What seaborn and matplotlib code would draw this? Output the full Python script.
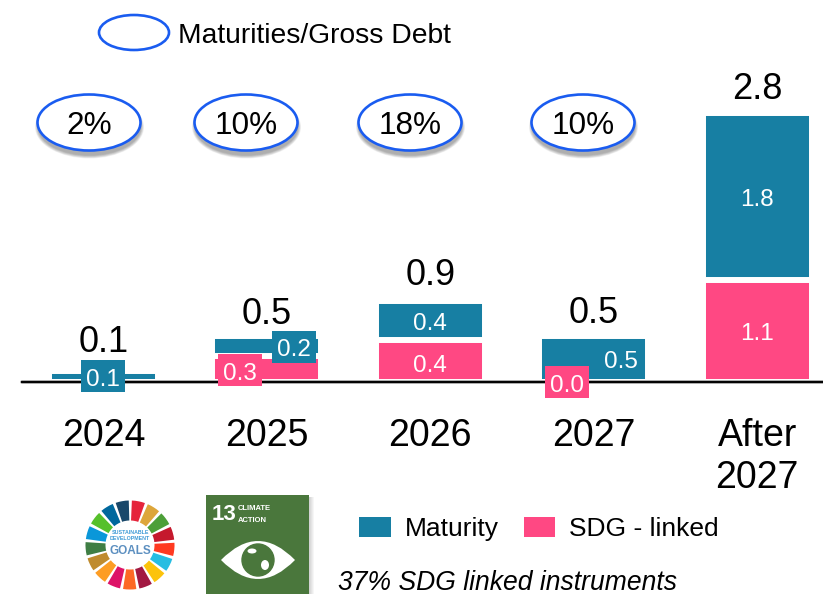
import matplotlib
matplotlib.use("Agg")
import matplotlib.pyplot as plt
import seaborn as sns
import pandas as pd
import numpy as np
from matplotlib.patches import Ellipse, Patch, Rectangle, Wedge, Circle, PathPatch
from matplotlib.path import Path
from matplotlib.transforms import IdentityTransform

# ---------- data ----------
periods = ["2024", "2025", "2026", "2027", "After\n2027"]
sdg_linked = [0.0, 0.28, 0.45, 0.0, 1.1]
maturity = [0.12, 0.22, 0.42, 0.5, 1.8]
total_labels = ["0.1", "0.5", "0.9", "0.5", "2.8"]
maturity_labels = ["0.1", "0.2", "0.4", "0.5", "1.8"]
sdg_labels = [None, "0.3", "0.4", "0.0", "1.1"]
ratio_labels = ["2%", "10%", "18%", "10%"]

TEAL = "#177FA3"
PINK = "#FF4883"
BLUE = "#1A5CF0"
W, H = 823, 594

sns.set_theme(style="white")
plt.rcParams["font.family"] = ["Liberation Sans", "DejaVu Sans"]

fig = plt.figure(figsize=(W / 100, H / 100), dpi=100, facecolor="white")

# overlay in pixel coordinates for annotations and logos
ov = fig.add_axes([0, 0, 1, 1], zorder=0)
ov.set_xlim(0, W)
ov.set_ylim(H, 0)
ov.axis("off")

# main chart axes
base_px = 382
ax = fig.add_axes([22 / W, (H - base_px) / H, (W - 22) / W, base_px / H], zorder=1)
ax.patch.set_alpha(0)

df = pd.DataFrame({"period": periods, "sdg": sdg_linked, "maturity": maturity})
df["stack"] = df["sdg"] + df["maturity"]

sns.barplot(data=df, x="period", y="stack", color=TEAL, saturation=1, width=0.667,
            edgecolor="white", linewidth=4.3, ax=ax)
sns.barplot(data=df, x="period", y="sdg", color=PINK, saturation=1, width=0.667,
            edgecolor="white", linewidth=4.3, ax=ax)

step = 163.4
ax.set_xlim((22 - 103.5) / step, (W - 103.5) / step)
ax.set_ylim(0, base_px / 92.8)
ax.set_xlabel("")
ax.set_ylabel("")
ax.set_yticks([])
ax.tick_params(axis="x", length=0, labelsize=27, pad=25.7, colors="black")
for lbl in ax.get_xticklabels():
    lbl.set_linespacing(1.24)
sns.despine(ax=ax, left=True)
ax.spines["bottom"].set_color("black")
ax.spines["bottom"].set_linewidth(1.4)
ax.spines["bottom"].set_zorder(5)
ax.axhline(0, color="#999999", lw=2.6, zorder=4, clip_on=False)

# total labels
tot_off = [23, 18, 21.5, 18.5, 20]
for i, t in enumerate(total_labels):
    ax.annotate(t, (i, df["stack"][i]), xytext=(0, tot_off[i]), textcoords="offset points",
                ha="center", va="center_baseline", fontsize=26, color="black", annotation_clip=False)

ov2 = fig.add_axes([0, 0, 1, 1], zorder=2)
ov2.set_xlim(0, W)
ov2.set_ylim(H, 0)
ov2.axis("off")


def boxed(x_px, y_px, s, color, box):
    if box:
        ov2.add_patch(Rectangle((x_px - 22, y_px - 16), 44, 32, fc=color, ec="none"))
    ov2.text(x_px, y_px + 1, s, ha="center", va="center_baseline", fontsize=17.5, color="white", zorder=10)


mat_pos = [(103, 376, True), (294, 347, True), (430, 320, False), (621, 358, False), (757, 197, False)]
sdg_pos = [None, (240, 370, True), (430, 362, False), (567, 382, True), (757, 331, False)]
for s, p in zip(maturity_labels, mat_pos):
    boxed(p[0], p[1], s, TEAL, p[2])
for s, p in zip(sdg_labels, sdg_pos):
    if s is not None:
        boxed(p[0], p[1], s, PINK, p[2])

# ratio ellipses
ell_x = [89, 246, 410, 583]
for s, x in zip(ratio_labels, ell_x):
    for k in range(7):
        grow = 6 - k
        ov.add_patch(Ellipse((x + 0.5, 127), 103 + grow, 57 + grow, fc="black", ec="none", alpha=0.05))
    ov.add_patch(Ellipse((x, 122.5), 103, 56, fc="white", ec=BLUE, lw=1.9))
    ov.text(x, 123, s, ha="center", va="center_baseline", fontsize=22.7, color="black")

# legend for ratio
ov.add_patch(Ellipse((134, 32.5), 70, 35, fc="white", ec=BLUE, lw=1.9))
ov.text(178, 33, "Maturities/Gross Debt", ha="left", va="center_baseline", fontsize=20.3, color="black")

# bar legend
handles = [Patch(fc=TEAL, ec="none", label="Maturity"), Patch(fc=PINK, ec="none", label="SDG - linked")]
leg = ax.legend(handles=handles, ncols=2, frameon=False, fontsize=19,
                handlelength=1.2, handleheight=0.83, handletextpad=0.53, columnspacing=0.95,
                borderpad=0, borderaxespad=0, loc="center left",
                bbox_to_anchor=(359, H - 529), bbox_transform=IdentityTransform())
for t in leg.get_texts():
    t.set_color("black")

ov.text(338, 580, "37% SDG linked instruments", style="italic", ha="left", va="center_baseline",
        fontsize=19.1, color="black")

# SDG wheel
wheel = ["#E5243B", "#DDA63A", "#4C9F38", "#C5192D", "#FF3A21", "#26BDE2", "#FCC30B", "#A21942",
         "#FD6925", "#DD1367", "#FD9D24", "#BF8B2E", "#3F7E44", "#0A97D9", "#56C02B", "#00689D", "#19486A"]
cx, cy = 130, 545
st = 360 / 17
for i, c in enumerate(wheel):
    a = -79 + i * st
    ov.add_patch(Wedge((cx, cy), 44.5, a - st / 2 + 2, a + st / 2 - 2, width=20, fc=c, ec="none"))
ov.text(cx, 533, "SUSTAINABLE", ha="center", va="center", fontsize=3.8, weight="bold", color="#3C9AD6")
ov.text(cx, 538, "DEVELOPMENT", ha="center", va="center", fontsize=3.8, weight="bold", color="#3C9AD6")
ov.text(cx, 551, "GOALS", ha="center", va="center", fontsize=8.5, weight="bold", color="#5C8FC0")

# Climate action tile
for k in range(5):
    ov.add_patch(Rectangle((206 + k, 497), 104, 100, fc="black", ec="none", alpha=0.035))
GREEN = "#4A773C"
ov.add_patch(Rectangle((206, 495), 103, 99, fc=GREEN, ec="none"))
ov.text(212, 515, "13", weight="bold", ha="left", va="center", fontsize=16, color="white")
ov.text(238, 508.5, "CLIMATE", weight="bold", ha="left", va="center", fontsize=5.5, color="white")
ov.text(238, 520.5, "ACTION", weight="bold", ha="left", va="center", fontsize=5.5, color="white")
eye = Path([(221, 560), (258, 522), (295, 560), (258, 598), (221, 560)],
           [Path.MOVETO, Path.CURVE3, Path.CURVE3, Path.CURVE3, Path.CURVE3])
ov.add_patch(PathPatch(eye, fc="white", ec="none"))
ov.add_patch(Circle((258, 560), 16, fc=GREEN, ec="none"))
ov.add_patch(Ellipse((252, 551), 9, 5, fc="white", ec="none"))
ov.add_patch(Ellipse((265, 565), 8, 10, fc="white", ec="none"))
ov.add_patch(Circle((258, 560), 16, fc="none", ec=GREEN, lw=1))

fig.savefig("out.png", dpi=100)
